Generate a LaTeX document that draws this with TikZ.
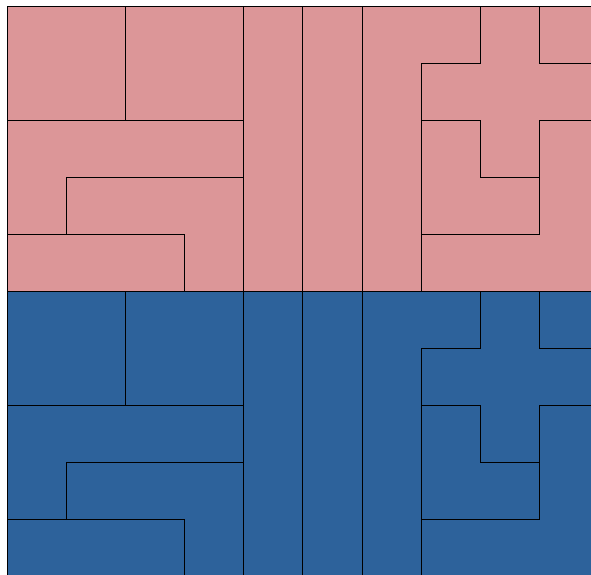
\documentclass[tikz,border=0pt]{standalone}
\definecolor{pinkc}{RGB}{220,150,152}
\definecolor{bluec}{RGB}{45,98,155}
\tikzset{tile/.style={draw=black,line width=0.9pt,line join=miter}}
\begin{document}
\begin{tikzpicture}[x=1pt,y=-1pt]
\useasboundingbox (0,0) rectangle (591,574);
\clip (0,0) rectangle (591,574);
\begin{scope}[shift={(7.5,6.5)},x=59.08pt,y=-56.95pt]
\foreach \yo/\col in {0/pinkc,5/bluec}{
\begin{scope}[shift={(0,\yo)}]
\path[tile,fill=\col] (0,0) rectangle (2,2);
\path[tile,fill=\col] (2,0) rectangle (4,2);
\path[tile,fill=\col] (0,2) -- (4,2) -- (4,3) -- (1,3) -- (1,4) -- (0,4) -- cycle;
\path[tile,fill=\col] (1,3) -- (4,3) -- (4,5) -- (3,5) -- (3,4) -- (1,4) -- cycle;
\path[tile,fill=\col] (0,4) rectangle (3,5);
\path[tile,fill=\col] (4,0) rectangle (5,5);
\path[tile,fill=\col] (5,0) rectangle (6,5);
\path[tile,fill=\col] (6,0) -- (8,0) -- (8,1) -- (7,1) -- (7,5) -- (6,5) -- cycle;
\path[tile,fill=\col] (8,0) -- (9,0) -- (9,1) -- (10,1) -- (10,2) -- (9,2) -- (9,3) -- (8,3) -- (8,2) -- (7,2) -- (7,1) -- (8,1) -- cycle;
\path[tile,fill=\col] (9,0) rectangle (10,1);
\path[tile,fill=\col] (7,2) -- (8,2) -- (8,3) -- (9,3) -- (9,4) -- (7,4) -- cycle;
\path[tile,fill=\col] (9,2) -- (10,2) -- (10,5) -- (7,5) -- (7,4) -- (9,4) -- cycle;
\end{scope}
}
\end{scope}
\end{tikzpicture}
\end{document}
